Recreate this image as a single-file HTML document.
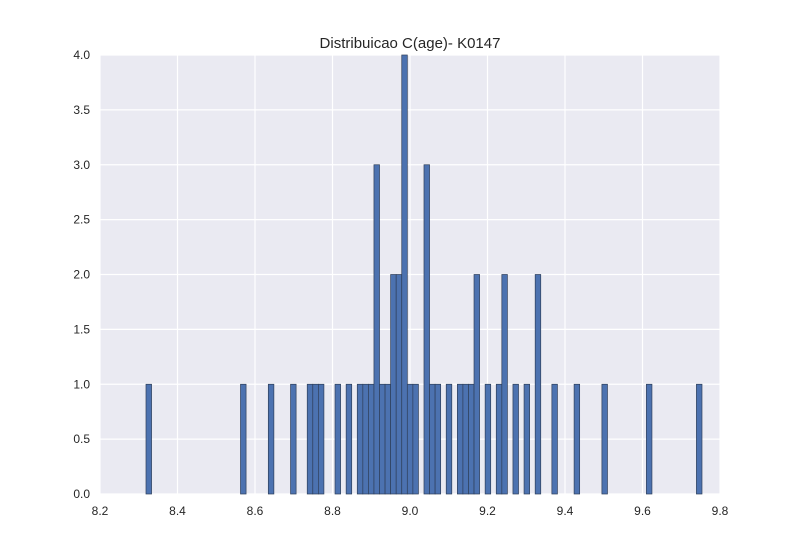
<!DOCTYPE html>
<html><head><meta charset="utf-8"><style>
body{margin:0;background:#fff;width:800px;height:550px;overflow:hidden}
svg{font-family:"Liberation Sans",sans-serif}
</style></head><body>
<svg id="chart" width="800" height="550">
<text x="410" y="48" text-anchor="middle" font-size="15" fill="#262626">Distribuicao C(age)- K0147</text>
</svg>
<script>
const binStart = 8.3187;
const binWidth = 0.014348;
const binIndex = [0,17,22,26,29,30,31,34,36,38,39,40,41,42,43,44,45,46,47,48,50,51,52,54,56,57,58,59,61,63,64,66,68,70,73,77,82,90,99];
const binCounts = [1,1,1,1,1,1,1,1,1,1,1,1,3,1,1,2,2,4,1,1,3,1,1,1,1,1,1,2,1,1,2,1,1,2,1,1,1,1,1];
const xTicks = [8.2,8.4,8.6,8.8,9.0,9.2,9.4,9.6,9.8];
const yTicks = [0,0.5,1,1.5,2,2.5,3,3.5,4];
const L=100,R=720,T=55,B=494;
const xs=v=>L+(v-8.2)/(9.8-8.2)*(R-L);
const ys=v=>B-v/4*(B-T);
const svg=document.getElementById('chart');
const NS='http://www.w3.org/2000/svg';
function mk(t,a){const e=document.createElementNS(NS,t);for(const k in a)e.setAttribute(k,a[k]);svg.appendChild(e);return e;}
const bg=mk('rect',{x:L,y:T,width:R-L,height:B-T,fill:'#EAEAF2'});


xTicks.forEach(v=>{
  const l=mk('line',{x1:xs(v),x2:xs(v),y1:T,y2:B,stroke:'#fff','stroke-width':1.2});
  
  
  const t=mk('text',{x:xs(v),y:B+21,'text-anchor':'middle','font-size':12,fill:'#262626'});
  t.textContent=v.toFixed(1);
  
  
});
yTicks.forEach(v=>{
  const l=mk('line',{x1:L,x2:R,y1:ys(v),y2:ys(v),stroke:'#fff','stroke-width':1.2});
  
  
  const t=mk('text',{x:L-10,y:ys(v)+4,'text-anchor':'end','font-size':12,fill:'#262626'});
  t.textContent=v.toFixed(1);
  
  
});
binIndex.forEach((b,i)=>{
  const x0=xs(binStart+b*binWidth),x1=xs(binStart+(b+1)*binWidth);
  const r=mk('rect',{x:x0,y:ys(binCounts[i]),width:x1-x0,height:ys(0)-ys(binCounts[i]),fill:'#4C72B0',stroke:'#2f3f5a','stroke-width':0.7});
  
  
});
</script>
</body></html>
